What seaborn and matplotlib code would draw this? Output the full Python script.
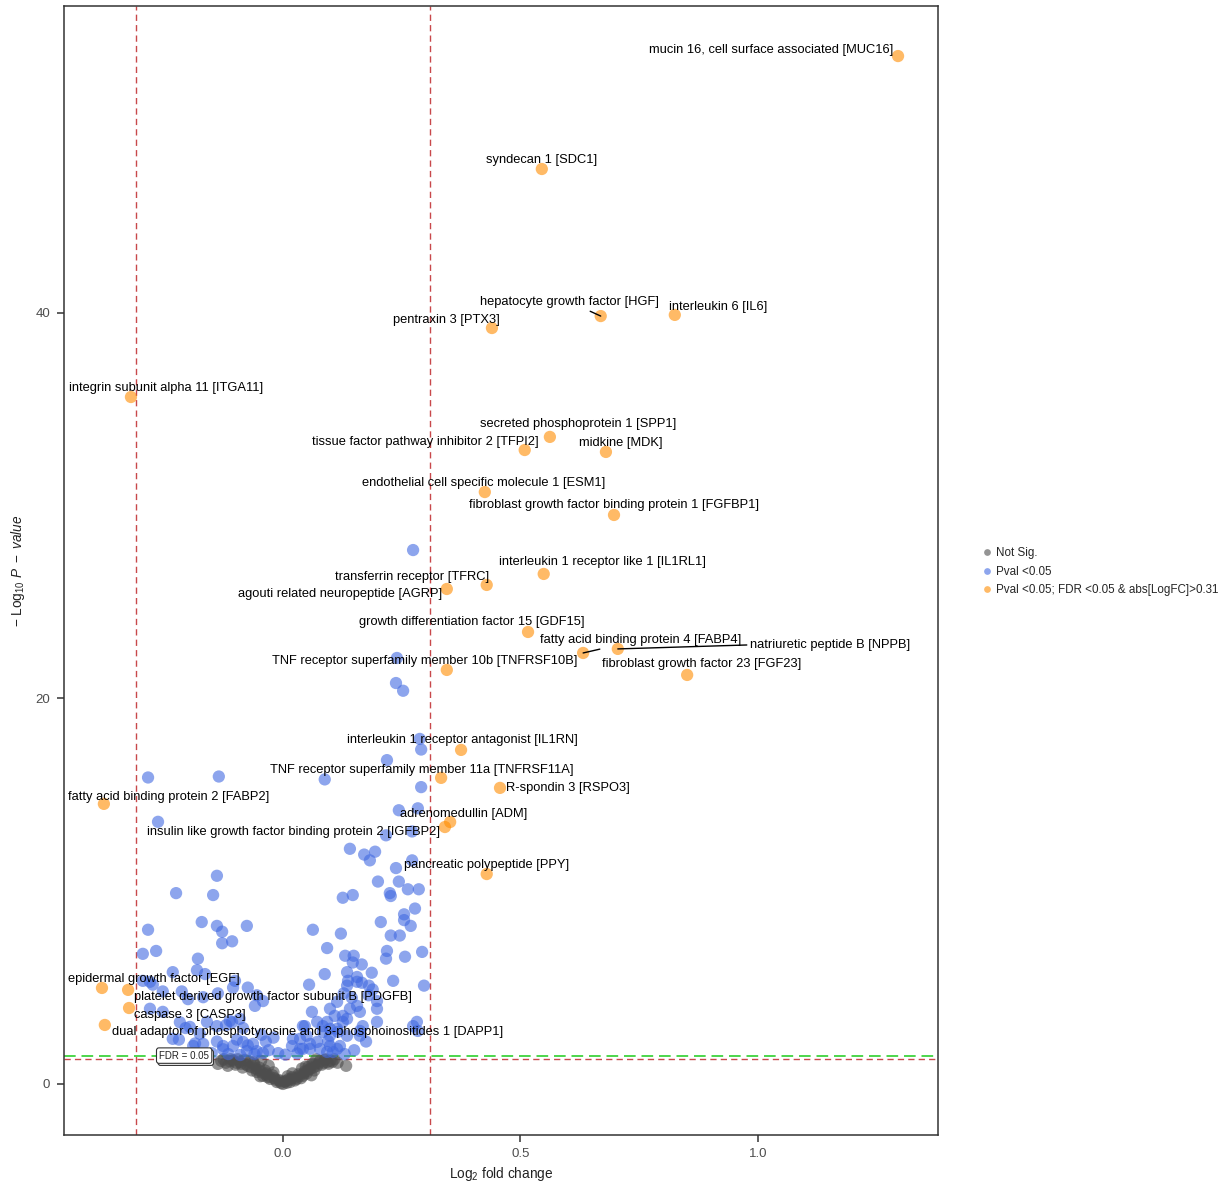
import numpy as np
import pandas as pd
import matplotlib
matplotlib.use("Agg")
import matplotlib.pyplot as plt
import seaborn as sns

# ---------------- data ----------------
# significant & labelled genes (orange)
sig_genes = ["mucin 16, cell surface associated [MUC16]", "syndecan 1 [SDC1]",
             "hepatocyte growth factor [HGF]", "interleukin 6 [IL6]", "pentraxin 3 [PTX3]",
             "integrin subunit alpha 11 [ITGA11]", "secreted phosphoprotein 1 [SPP1]",
             "tissue factor pathway inhibitor 2 [TFPI2]", "midkine [MDK]",
             "endothelial cell specific molecule 1 [ESM1]",
             "fibroblast growth factor binding protein 1 [FGFBP1]",
             "interleukin 1 receptor like 1 [IL1RL1]", "transferrin receptor [TFRC]",
             "agouti related neuropeptide [AGRP]", "growth differentiation factor 15 [GDF15]",
             "fatty acid binding protein 4 [FABP4]", "natriuretic peptide B [NPPB]",
             "TNF receptor superfamily member 10b [TNFRSF10B]",
             "fibroblast growth factor 23 [FGF23]", "interleukin 1 receptor antagonist [IL1RN]",
             "TNF receptor superfamily member 11a [TNFRSF11A]", "R-spondin 3 [RSPO3]",
             "fatty acid binding protein 2 [FABP2]", "adrenomedullin [ADM]",
             "insulin like growth factor binding protein 2 [IGFBP2]",
             "pancreatic polypeptide [PPY]", "epidermal growth factor [EGF]",
             "platelet derived growth factor subunit B [PDGFB]", "caspase 3 [CASP3]",
             "dual adaptor of phosphotyrosine and 3-phosphoinositides 1 [DAPP1]"]
sig_fc = [1.295, 0.545, 0.669, 0.825, 0.440, -0.320, 0.562, 0.509, 0.680, 0.425,
          0.697, 0.549, 0.429, 0.345, 0.516, 0.632, 0.705, 0.345, 0.851, 0.375,
          0.333, 0.457, -0.377, 0.352, 0.341, 0.429, -0.381, -0.326, -0.324, -0.375]
sig_p = [53.33, 47.47, 39.84, 39.90, 39.22, 35.64, 33.57, 32.89, 32.79, 30.71,
         29.52, 26.46, 25.89, 25.68, 23.45, 22.36, 22.57, 21.48, 21.22, 17.33,
         15.88, 15.36, 14.53, 13.59, 13.33, 10.89, 4.98, 4.88, 3.94, 3.06]

# label anchor positions (data units)
label_x = [1.027, 0.545, 0.604, 0.916, 0.345, -0.246, 0.621, 0.299, 0.712, 0.423,
           0.697, 0.672, 0.272, 0.120, 0.398, 0.752, 1.152, 0.299, 0.882, 0.377,
           0.293, 0.600, -0.240, 0.381, 0.023, 0.429, -0.272, -0.021, -0.196, 0.051]
label_y = [53.64, 47.94, 40.57, 40.31, 39.64, 36.11, 34.24, 33.31, 33.26, 31.18,
           30.04, 27.08, 26.30, 25.42, 23.97, 23.04, 22.78, 21.95, 21.79, 17.85,
           16.29, 15.36, 14.89, 14.01, 13.07, 11.36, 5.45, 4.51, 3.58, 2.70]
segment_genes = ["hepatocyte growth factor [HGF]", "fatty acid binding protein 4 [FABP4]",
                 "natriuretic peptide B [NPPB]"]

# nominally significant genes (blue)
blue_fc = [0.274, 0.240, 0.238, 0.253, 0.288, 0.291, 0.219, -0.135, 0.088, 0.291,
           0.244, 0.284, 0.217, 0.272, 0.141, 0.171, 0.194, 0.183, 0.272, 0.238,
           -0.139, -0.147, 0.200, 0.244, 0.225, 0.227, 0.263, 0.286, 0.126, 0.147,
           0.278, 0.255, 0.255, 0.269, 0.206, -0.171, -0.139, -0.128, -0.076, 0.063,
           0.122, 0.227, 0.246, -0.284, -0.263, -0.225, -0.284, -0.128, -0.107, -0.295,
           -0.267, -0.179, -0.181, -0.232, -0.280, -0.101, -0.074, -0.055, -0.042, -0.059,
           -0.217, -0.139, -0.107, -0.084, -0.219, -0.185, -0.139, -0.126, -0.097, -0.074,
           -0.055, -0.036, -0.175, 0.093, 0.219, 0.217, 0.293, 0.257, 0.131, 0.149,
           0.147, 0.166, 0.088, 0.135, 0.187, 0.137, 0.156, 0.166, 0.181, 0.189,
           0.232, 0.297, 0.055, 0.128, 0.145, 0.156, 0.162, 0.141, 0.126, 0.114,
           0.099, 0.109, 0.135, 0.093, 0.072, 0.084, 0.099, 0.114, 0.126, 0.061,
           0.042, 0.050, 0.072, 0.057, 0.036, 0.021, 0.198, 0.168, 0.162, 0.198,
           0.282, 0.274, 0.114, 0.093, 0.078, 0.099, -0.164, -0.274, -0.253, -0.295,
           -0.213, -0.200, -0.168, -0.137, -0.105, -0.280, -0.253, -0.196, -0.160, -0.120,
           -0.112, -0.091, -0.232, -0.189, -0.168, -0.126, -0.105, -0.084, -0.063, -0.076,
           -0.042, 0.019, 0.042, 0.095, 0.135, 0.156, 0.180, 0.198, 0.284, 0.046,
           0.084, 0.099, 0.116, 0.135, 0.162, 0.036, 0.057, 0.105, 0.120, 0.150,
           0.175, 0.130, -0.150, -0.115, -0.090, -0.060, -0.030, -0.010, 0.005, 0.030,
           -0.205, -0.045, -0.020]
blue_p = [27.70, 22.10, 20.80, 20.40, 17.90, 17.35, 16.80, 15.95, 15.80, 15.40,
          14.20, 14.30, 12.90, 13.10, 12.20, 11.90, 12.05, 11.60, 11.60, 11.20,
          10.80, 9.80, 10.50, 10.50, 9.90, 9.75, 10.10, 10.10, 9.66, 9.80,
          9.10, 8.80, 8.50, 8.20, 8.40, 8.40, 8.20, 7.90, 8.20, 8.00,
          7.80, 7.70, 7.70, 15.90, 13.60, 9.90, 8.00, 7.30, 7.40, 6.75,
          6.90, 6.50, 5.90, 5.80, 5.30, 5.35, 5.00, 4.60, 4.30, 4.05,
          3.20, 3.00, 3.20, 2.90, 2.30, 2.10, 2.20, 1.80, 2.30, 2.00,
          1.70, 2.20, 2.60, 7.05, 6.90, 6.50, 6.85, 6.60, 6.65, 6.65,
          6.30, 6.20, 5.70, 5.80, 5.77, 5.35, 5.55, 5.25, 5.10, 4.90,
          5.35, 5.10, 5.15, 4.70, 4.47, 4.05, 3.74, 3.90, 3.53, 4.26,
          3.90, 3.53, 3.38, 3.22, 3.22, 2.70, 2.50, 2.86, 3.22, 3.74,
          3.00, 2.50, 2.18, 1.82, 1.82, 2.34, 3.90, 3.00, 2.50, 3.22,
          3.22, 3.00, 1.82, 1.66, 1.82, 1.97, 5.70, 5.15, 4.80, 5.35,
          4.80, 4.40, 4.50, 4.70, 5.00, 3.90, 3.74, 2.96, 3.22, 3.05,
          3.27, 3.38, 2.34, 1.97, 2.08, 1.97, 1.97, 2.18, 2.08, 1.71,
          1.61, 1.97, 1.82, 2.23, 5.10, 5.30, 4.60, 4.30, 2.75, 3.00,
          3.00, 2.86, 2.70, 2.50, 2.75, 2.34, 2.08, 1.66, 1.97, 1.75,
          2.20, 1.55, 1.60, 1.55, 1.50, 1.55, 1.75, 1.60, 1.52, 1.58,
          2.90, 2.55, 2.40]

# not significant genes (grey)
grey_fc = [-0.137, -0.130, -0.120, -0.116, -0.105, -0.100, -0.091, -0.085, -0.080, -0.074,
           -0.070, -0.065, -0.060, -0.055, -0.050, -0.046, -0.042, -0.038, -0.035, -0.030,
           -0.027, -0.022, -0.018, -0.013, -0.008, -0.004, 0.000, 0.004, 0.008, 0.012,
           0.015, 0.020, 0.025, 0.029, 0.033, 0.038, 0.042, 0.046, 0.050, 0.054,
           0.057, 0.062, 0.066, 0.072, 0.078, 0.082, 0.088, 0.093, 0.100, 0.108,
           0.133, -0.125, -0.110, -0.095, 0.070, 0.090, -0.020, 0.020, -0.048, 0.040,
           0.115, 0.060, -0.032, 0.010, -0.112, -0.098, -0.088, -0.078, -0.068, -0.058,
           -0.052, -0.044, -0.036, -0.028, -0.016, -0.006, 0.006, 0.016, 0.026, 0.035,
           0.044, 0.052, 0.064, 0.075, 0.085, 0.096, 0.104, 0.064, 0.048, -0.062]
grey_p = [1.04, 1.20, 1.10, 0.94, 1.22, 1.00, 1.14, 0.85, 1.25, 0.94,
          1.15, 0.70, 1.00, 0.62, 0.85, 1.20, 0.42, 0.70, 0.55, 0.95,
          0.26, 0.45, 0.30, 0.10, 0.20, 0.05, 0.00, 0.12, 0.06, 0.25,
          0.10, 0.35, 0.18, 0.26, 0.50, 0.30, 0.42, 0.65, 0.55, 0.90,
          0.78, 1.05, 0.70, 0.94, 1.20, 1.00, 1.25, 1.14, 1.20, 1.28,
          0.94, 1.28, 1.28, 1.28, 1.28, 1.28, 0.60, 0.55, 0.40, 0.80,
          1.10, 0.45, 0.35, 0.40, 1.18, 1.10, 1.05, 1.02, 0.88, 0.80,
          0.72, 0.60, 0.48, 0.38, 0.22, 0.14, 0.15, 0.22, 0.32, 0.42,
          0.55, 0.68, 0.85, 1.08, 1.10, 1.05, 1.15, 1.00, 0.90, 1.12]

group_names = ["Not Sig.", "Pval <0.05", "Pval <0.05; FDR <0.05 & abs[LogFC]>0.31"]
group_colors = ["#4D4D4D", "#4169E1", "#FF8C00"]
fc_cutoff = 0.31
p_cutoff = 1.30      # -log10(0.05)
fdr_line = 1.47

# ---------------- figure ----------------
sns.set_style("ticks")
plt.rcParams["font.family"] = ["Liberation Sans", "DejaVu Sans"]
plt.rcParams["mathtext.fontset"] = "custom"
plt.rcParams["mathtext.rm"] = "Liberation Sans"
plt.rcParams["mathtext.it"] = "Liberation Sans:italic"

df = pd.DataFrame({
    "logFC": grey_fc + blue_fc + sig_fc,
    "logP": grey_p + blue_p + sig_p,
    "group": [group_names[0]] * len(grey_fc) + [group_names[1]] * len(blue_fc)
             + [group_names[2]] * len(sig_fc),
})

fig = plt.figure(figsize=(12.28, 11.88), dpi=100)
ax = fig.add_axes([0.0521, 0.0446, 0.7117, 0.9504])

sns.scatterplot(data=df, x="logFC", y="logP", hue="group", hue_order=group_names,
                palette=dict(zip(group_names, group_colors)), s=78, alpha=0.6,
                edgecolor="none", linewidth=0, ax=ax, zorder=3)

ax.set_xlim(-0.461, 1.379)
ax.set_ylim(-2.65, 55.93)
ax.set_xticks([0.0, 0.5, 1.0])
ax.set_xticklabels(["0.0", "0.5", "1.0"])
ax.set_yticks([0, 20, 40])

# threshold lines
for xv in (-fc_cutoff, fc_cutoff):
    ax.axvline(xv, color="#C8484B", lw=1.0, ls=(0, (4.5, 3)), zorder=2)
ax.axhline(p_cutoff, color="#C8484B", lw=1.0, ls=(0, (4.5, 3)), zorder=2)
ax.axhline(fdr_line, color="#4CD64C", lw=1.4, ls=(0, (6, 3)), zorder=2)

# FDR label with shadow
ax.annotate("FDR = 0.05", xy=(-0.208, fdr_line), xytext=(1.2, -1.5), textcoords="offset points",
            ha="center", va="center", fontsize=7, color=(0, 0, 0, 0), zorder=4,
            bbox=dict(boxstyle="round,pad=0.28,rounding_size=0.25", fc="white", ec="#333333", lw=0.8))
ax.annotate("FDR = 0.05", xy=(-0.208, fdr_line), xytext=(0, 0), textcoords="offset points",
            ha="center", va="center", fontsize=7, color="#222222", zorder=5,
            bbox=dict(boxstyle="round,pad=0.28,rounding_size=0.25", fc="white", ec="#333333", lw=0.8))

# gene labels
for g, px, py, lx, ly in zip(sig_genes, sig_fc, sig_p, label_x, label_y):
    if g in segment_genes:
        rel = (0.0, 0.5) if "NPPB" in g else (0.5, 0.5)
        ax.annotate(g, xy=(px, py), xytext=(lx, ly), ha="center", va="center",
                    fontsize=9.3, color="black", zorder=6,
                    arrowprops=dict(arrowstyle="-", color="black", lw=1.0,
                                    shrinkA=0, shrinkB=0, relpos=rel))
    else:
        ax.text(lx, ly, g, ha="center", va="center", fontsize=9.3, color="black", zorder=6)

# axes styling
for sp in ax.spines.values():
    sp.set_visible(True)
    sp.set_color("#333333")
    sp.set_linewidth(1.1)
ax.tick_params(axis="both", direction="out", length=5, width=1.1, color="#333333",
               labelsize=9.5, labelcolor="#4D4D4D")
ax.tick_params(axis="x", pad=4)
ax.tick_params(axis="y", pad=5)
ax.set_xlabel(r"Log$_2$ fold change", fontsize=9.8, color="#222222", labelpad=4)
ax.set_ylabel(r"$-\ \mathrm{Log}_{10}\ \mathit{P}\ -\ \mathit{value}$", fontsize=9.8,
              color="#222222", labelpad=6)

sns.move_legend(ax, loc="center left", bbox_to_anchor=(1.037, 0.499), frameon=False,
                title=None, fontsize=8.4, markerscale=0.55, handletextpad=-0.2,
                labelspacing=0.55, borderaxespad=0)

fig.savefig("out.png", dpi=100)
